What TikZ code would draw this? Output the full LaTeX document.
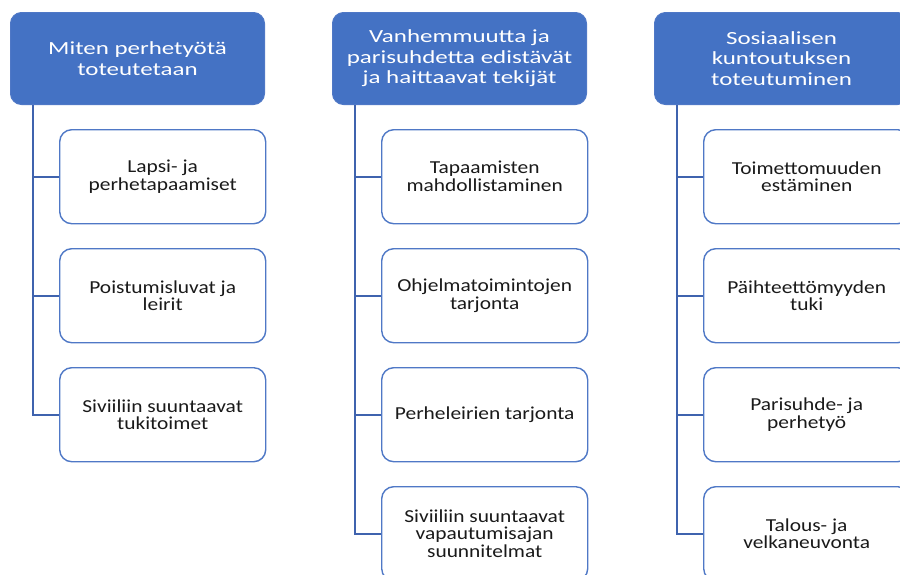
\documentclass[tikz,border=0pt]{standalone}
\usepackage{fontspec}
\setmainfont{Carlito}
\newfontfamily\hdfont[FakeStretch=1.35]{Carlito}
\newfontfamily\chfont[FakeStretch=1.17]{Carlito}
\definecolor{hblue}{HTML}{4472C4}
\definecolor{lblue}{HTML}{4F78C6}
\definecolor{cblue}{HTML}{3F63AE}
\definecolor{ctext}{HTML}{1A1A1A}
\tikzset{
  headbox/.style={draw=lblue, line width=1pt, fill=hblue, rounded corners=11pt,
    minimum width=254pt, minimum height=92pt, anchor=north west, inner sep=0pt,
    align=center, text=white, font=\hdfont\fontsize{18.5}{20.6}\selectfont},
  childbox/.style={draw=lblue, line width=1.4pt, fill=white, rounded corners=12pt,
    minimum width=206pt, minimum height=94pt, anchor=north west, inner sep=0pt,
    align=center, text=ctext, font=\chfont\fontsize{18.3}{17.9}\selectfont},
  conn/.style={draw=cblue, line width=1.6pt}
}
\begin{document}
\begin{tikzpicture}[x=1pt,y=-1pt]
\useasboundingbox (0,0) rectangle (900,574);
\clip (0,0) rectangle (900,574);
% column 1
\node[headbox] (h1) at (10,12) {Miten perhetyötä\\toteutetaan};
\node[childbox] (a1) at (59,129) {Lapsi- ja\\perhetapaamiset};
\node[childbox] (a2) at (59,248) {Poistumisluvat ja\\leirit};
\node[childbox] (a3) at (59,367) {Siviiliin suuntaavat\\tukitoimet};
% column 2
\node[headbox] (h2) at (332,12) {Vanhemmuutta ja\\parisuhdetta edistävät\\ja haittaavat tekijät};
\node[childbox] (b1) at (381,129) {Tapaamisten\\mahdollistaminen};
\node[childbox] (b2) at (381,248) {Ohjelmatoimintojen\\tarjonta};
\node[childbox] (b3) at (381,367) {Perheleirien tarjonta};
\node[childbox] (b4) at (381,486) {Siviiliin suuntaavat\\vapautumisajan\\suunnitelmat};
% column 3
\node[headbox] (h3) at (654,12) {Sosiaalisen\\kuntoutuksen\\toteutuminen};
\node[childbox] (c1) at (703,129) {Toimettomuuden\\estäminen};
\node[childbox] (c2) at (703,248) {Päihteettömyyden\\tuki};
\node[childbox] (c3) at (703,367) {Parisuhde- ja\\perhetyö};
\node[childbox] (c4) at (703,486) {Talous- ja\\velkaneuvonta};
% connectors
\coordinate (s1) at ([xshift=23pt]h1.south west);
\coordinate (s2) at ([xshift=23pt]h2.south west);
\coordinate (s3) at ([xshift=23pt]h3.south west);
\foreach \c in {a1,a2,a3} {\draw[conn] (s1) |- (\c.west);}
\foreach \c in {b1,b2,b3,b4} {\draw[conn] (s2) |- (\c.west);}
\foreach \c in {c1,c2,c3,c4} {\draw[conn] (s3) |- (\c.west);}
\end{tikzpicture}
\end{document}
